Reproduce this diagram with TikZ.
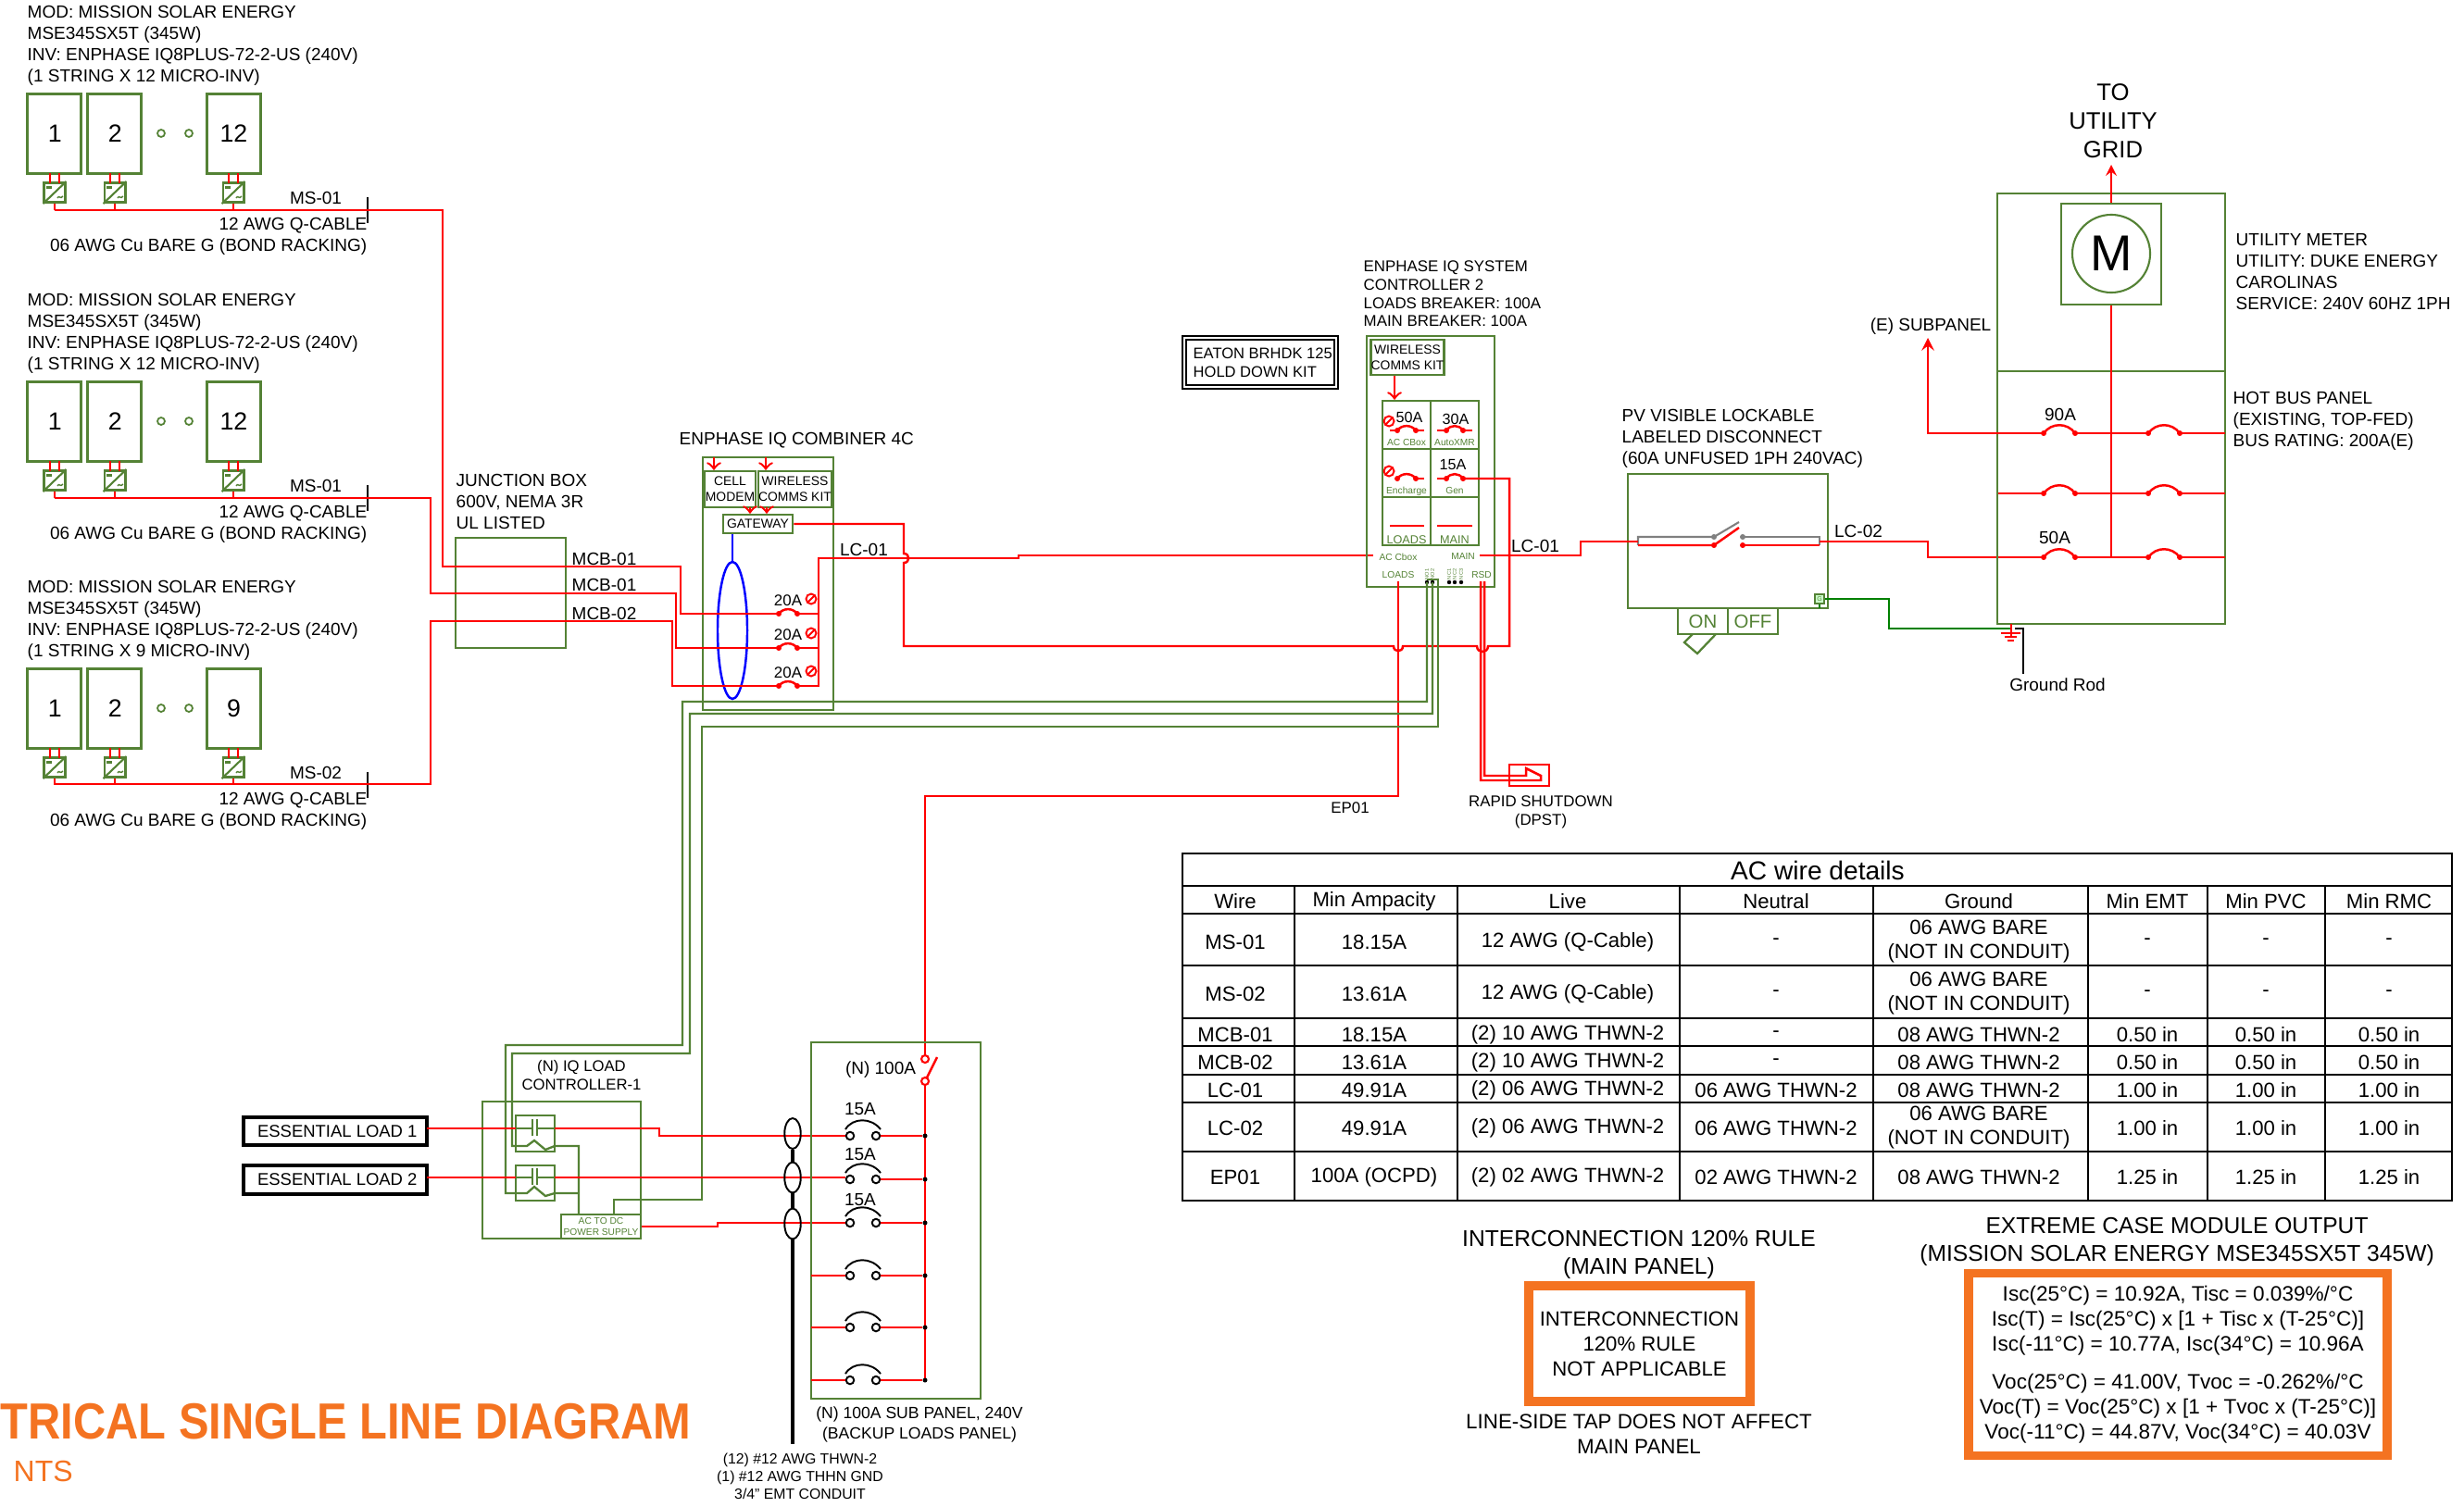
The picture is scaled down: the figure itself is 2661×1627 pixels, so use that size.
\documentclass[tikz,border=0pt]{standalone}
\usepackage{fontspec}
\setmainfont{Liberation Sans}
\usetikzlibrary{shapes.geometric}
\definecolor{grn}{HTML}{548235}
\definecolor{gnd}{HTML}{008000}
\definecolor{org}{HTML}{F47321}
\newcommand{\fs}[2]{\fontsize{#1}{#2}\selectfont}
% red breaker: centre x, half width, rise, y
\newcommand{\redbrk}[4]{
	\fill[red] (#1-#2,#4) circle (0.03cm);
	\fill[red] (#1+#2,#4) circle (0.03cm);
	\draw[wire] (#1-#2,#4) .. controls (#1-#2*0.5,#4-#3*1.3) and (#1+#2*0.5,#4-#3*1.3) .. (#1+#2,#4);
}
\newcommand{\noentry}[2]{
	\draw[red,line width=0.55pt] (#1,#2) circle (0.055cm);
	\draw[red,line width=0.55pt] (#1-4,#2+4) -- (#1+4,#2-4);
}
\begin{document}
\begin{tikzpicture}[x=0.01cm,y=-0.01cm]
	\tikzstyle{wire} = [red, line width=0.7pt]
	\tikzstyle{thinwire} = [red, line width=0.5pt]
	\tikzstyle{grnwire} = [grn, line width=0.65pt]
	\tikzstyle{grnbox} = [draw=grn, line width=0.7pt, inner sep=0pt, align=center]
	\tikzstyle{panel} = [grnbox, line width=0.85pt, minimum width=0.57cm, minimum height=0.85cm, font=\fs{7.6}{9}]
	\tikzstyle{inv} = [grnbox, line width=0.85pt, minimum width=0.22cm, minimum height=0.21cm]
	\tikzstyle{txt} = [inner sep=0pt, align=left, yshift=-0.4pt, font=\fs{5.4}{6.55}]
	\tikzstyle{mid} = [inner sep=0pt, align=center, yshift=-0.4pt, font=\fs{5.4}{6.55}]
	\tikzstyle{small} = [mid, font=\fs{4.8}{5.7}]
	\tikzstyle{gtxt} = [mid, text=grn, font=\fs{2.9}{3.4}]
	\tikzstyle{orgbox} = [draw=org, line width=2.7pt, inner sep=0pt, align=center]
	\tikzstyle{blk} = [draw=black, line width=0.55pt]
	\tikzstyle{term} = [blk, circle, fill=white, minimum size=0.085cm, inner sep=0pt]
	\tikzstyle{busdot} = [circle, fill=black, minimum size=0.05cm, inner sep=0pt]
	\tikzstyle{cable} = [ellipse, blk, minimum width=0.175cm, minimum height=0.33cm, inner sep=0pt]
	\useasboundingbox (0,0) rectangle (2661,1627);

	% module strings
	\foreach \off/\num/\ms [count=\k] in {0/12/MS-01, 311/12/MS-01, 621/9/MS-02} {
		\node [txt, anchor=north west] (mod\k) at (29,4+\off) {MOD: MISSION SOLAR ENERGY\\MSE345SX5T (345W)\\INV: ENPHASE IQ8PLUS-72-2-US (240V)\\(1 STRING X \num\ MICRO-INV)};
		\node [panel] (pv\k a) at (58.5,144.5+\off) {\hspace{0.5pt}1};
		\node [panel] (pv\k b) at (123.5,144.5+\off) {\hspace{0.5pt}2};
		\node [panel] (pv\k c) at (252.5,144.5+\off) {\num};
		\draw[grn, line width=0.5pt] (174,144+\off) circle (0.04cm);
		\draw[grn, line width=0.5pt] (204,144+\off) circle (0.04cm);
		\foreach \x/\s in {59/a, 124/b, 252/c} {
			\node [inv] (mi\k\s) at (\x,208+\off) {};
			\draw[grn, line width=0.6pt] (mi\k\s.south west) -- (mi\k\s.north east);
			\fill[grn] (\x-9,201+\off) rectangle (\x-3,204+\off);
			\draw[grn, line width=0.4pt] (\x+3,214+\off) .. controls (\x+5,210+\off) and (\x+6,216+\off) .. (\x+9,212+\off);
			\draw[wire] (\x-5,187+\off) -- (\x-5,198+\off);
			\draw[wire] (\x+5,187+\off) -- (\x+5,198+\off);
			\draw[wire] (mi\k\s.south) -- (\x,227+\off);
		}
		\node [txt] (lbl\k) at (341,213+\off) {\ms};
		\node [txt, anchor=east] (awg\k) at (397,242+\off) {12 AWG Q-CABLE};
		\node [txt, anchor=east] (bare\k) at (397,265+\off) {06 AWG Cu BARE G (BOND RACKING)};
		\draw[black, line width=0.8pt] (397,213+\off) -- (397,241+\off);
	}

	% junction box and combiner
	\node [txt, anchor=west] (jbtxt) at (492,541) {JUNCTION BOX\\600V, NEMA 3R\\UL LISTED};
	\node [grnbox, minimum width=1.19cm, minimum height=1.19cm] (jbox) at (551.5,640.5) {};
	\node [txt, anchor=west] (mcb1) at (617,603) {MCB-01};
	\node [txt, anchor=west] (mcb2) at (617,631) {MCB-01};
	\node [txt, anchor=west] (mcb3) at (617,662) {MCB-02};
	\node [txt, anchor=west] (combtxt) at (733,474) {ENPHASE IQ COMBINER 4C};
	\node [grnbox, minimum width=1.41cm, minimum height=2.73cm] (comb) at (829.5,630.5) {};
	\node [grnbox, font=\fs{3.95}{4.85}, minimum width=0.55cm, minimum height=0.39cm] (modem) at (788.5,528.5) {CELL\\MODEM};
	\node [grnbox, font=\fs{3.95}{4.85}, minimum width=0.79cm, minimum height=0.39cm] (comms) at (858.5,528.5) {WIRELESS\\COMMS KIT};
	\node [grnbox, font=\fs{3.95}{4.85}, minimum width=0.75cm, minimum height=0.20cm] (gateway) at (818.5,566) {GATEWAY};
	\node [ellipse, draw=blue, line width=0.7pt, minimum width=0.32cm, minimum height=1.48cm, inner sep=0pt] (ct) at (791,681) {};
	\draw[blue, line width=0.7pt] (gateway.south -| ct) -- (ct.north);
	\draw[wire, ->] (771,494) -- (modem.north -| 771,0);
	\draw[wire, ->] (827,494) -- (comms.north -| 827,0);
	\draw[wire, ->] (810,548) -- (gateway.north -| 810,0);
	\draw[wire, ->] (828,548) -- (gateway.north -| 828,0);
	\foreach \y/\ly/\ny in {663/647/a, 700/684/b, 741/725/c} {
		\redbrk{851}{10}{5}{\y}
		\node [mid, font=\fs{4.8}{5.7}] (amp\ny) at (851,\ly) {20A};
		\noentry{876}{\ly}
		\draw[wire] (861,\y) -- (885,\y);
	}
	\draw[wire] (59,227) -- (478,227) -- (478,612) -- (735,612) -- (735,663) -- (841,663);
	\draw[wire] (59,538) -- (465,538) -- (465,641) -- (730,641) -- (730,700) -- (841,700);
	\draw[wire] (59,847) -- (465,847) -- (465,671) -- (726,671) -- (726,741) -- (841,741);
	\draw[wire] (884,741) -- (884,603) -- (1100,603) -- (1100,600) -- (1483,600);
	\node [txt] (lc1a) at (933,593) {LC-01};

	% system controller
	\node [small, anchor=north west, align=left, font=\fs{4.8}{5.6}] (sctxt) at (1472,280) {ENPHASE IQ SYSTEM\\CONTROLLER 2\\LOADS BREAKER: 100A\\MAIN BREAKER: 100A};
	\node [draw=black, line width=0.8pt, minimum width=1.68cm, minimum height=0.57cm, inner sep=0pt] (eatonout) at (1361,391.5) {};
	\node [draw=black, line width=0.5pt, minimum width=1.60cm, minimum height=0.49cm, inner sep=0pt] (eaton) at (1361,391.5) {};
	\node [txt, anchor=west, font=\fs{4.7}{5.7}] (eatontxt) at (1288,390) {EATON BRHDK 125\\HOLD DOWN KIT};
	\node [grnbox, minimum width=1.38cm, minimum height=2.71cm] (sc) at (1545,498.5) {};
	\node [grnbox, font=\fs{3.95}{4.85}, minimum width=0.78cm, minimum height=0.38cm] (sccomms) at (1520,386) {WIRELESS\\COMMS KIT};
	\foreach \r/\y in {1/459, 2/511, 3/563} {
		\node [grnbox, minimum width=0.52cm, minimum height=0.52cm] (cell\r a) at (1519,\y) {};
		\node [grnbox, minimum width=0.52cm, minimum height=0.52cm] (cell\r b) at (1571,\y) {};
	}
	\draw[wire, ->] (sccomms.south -| 1506,0) -- (cell1a.north -| 1506,0);
	\node [small, font=\fs{4.6}{5}] (a50) at (1522,450) {50A};
	\node [small, font=\fs{4.6}{5}] (a30) at (1572,452) {30A};
	\node [small, font=\fs{4.6}{5}] (a15) at (1569,501) {15A};
	\noentry{1500}{455}
	\noentry{1500}{509}
	\redbrk{1519}{10}{5}{465}
	\redbrk{1571}{9}{5}{465}
	\redbrk{1519}{10}{5}{517}
	\redbrk{1571}{9}{5}{517}
	\foreach \a/\b/\y in {1501/1509/465, 1529/1538/465, 1552/1562/465, 1580/1590/465, 1529/1538/517, 1552/1562/517} {
		\draw[wire] (\a,\y) -- (\b,\y);
	}
	\draw[wire] (1501,568) -- (1538,568);
	\draw[thinwire] (1552,568) -- (1590,568);
	\node [gtxt] (g1) at (1519,477) {AC CBox};
	\node [gtxt] (g2) at (1571,477) {AutoXMR};
	\node [gtxt] (g3) at (1519,529) {Encharge};
	\node [gtxt] (g4) at (1571,529) {Gen};
	\node [gtxt, font=\fs{3.6}{4}] (g5) at (1519,582) {LOADS};
	\node [gtxt, font=\fs{3.6}{4}] (g6) at (1571,582) {MAIN};
	\node [gtxt] (g7) at (1510,600) {AC Cbox};
	\node [gtxt] (g8) at (1580,600) {MAIN};
	\node [gtxt] (g9) at (1510,620) {LOADS};
	\node [gtxt] (g10) at (1600,620) {RSD};
	\foreach \x/\t in {1541/NO1, 1547/NO2, 1565/NC1, 1571/NC2, 1578/NC3} {
		\node [gtxt, font=\fs{1.6}{2}, rotate=90] (pin\t) at (\x,619) {\t};
		\fill[black] (\x,629) circle (0.022cm);
	}

	% wires from the controller
	\draw[wire] (1510,628) -- (1510,860) -- (999,860) -- (999,1139);
	\node [small] (ep01) at (1458,871) {EP01};
	\draw[wire] (1603,628) -- (1603,838) -- (1648,838) -- (1648,830) -- (1664,838) -- (1664,843) -- (1599,843) -- (1599,628);
	\node [draw=red, line width=0.6pt, minimum width=0.43cm, minimum height=0.23cm, inner sep=0pt] (rsd) at (1651.5,837.5) {};
	\node [small] (rsdtxt) at (1664,876) {RAPID SHUTDOWN\\(DPST)};
	\draw[wire] (gateway.east) -- (976,566) -- (976,598) .. controls (983,598) and (983,608) .. (976,608) -- (976,698) -- (1505,698) .. controls (1505,705) and (1515,705) .. (1515,698) -- (1595,698) .. controls (1595,706) and (1607,706) .. (1607,698) -- (1630,698) -- (1630,517) -- (1580,517);
	\draw[grnwire] (1541,629) -- (1541,758) -- (737,758) -- (737,1129) -- (546,1129) -- (546,1289) -- (569,1289) -- (577,1282) -- (589,1292) -- (599,1289) -- (625,1289);
	\draw[grnwire] (1547,629) -- (1547,771) -- (745,771) -- (745,1138) -- (553,1138) -- (553,1238) -- (569,1238) -- (577,1232) -- (589,1242) -- (599,1238) -- (625,1238) -- (625,1312);
	\draw[grnwire] (1541,626) -- (1553,626) -- (1553,785) -- (758,785) -- (758,1296) -- (663,1296) -- (663,1312);

	% load controller
	\node [small, font=\fs{4.75}{5.7}] (iqtxt) at (628,1160) {(N) IQ LOAD\\CONTROLLER-1};
	\node [grnbox, minimum width=1.71cm, minimum height=1.48cm] (iqlc) at (606.5,1264) {};
	\node [grnbox, minimum width=0.42cm, minimum height=0.39cm] (rly1) at (578,1224.5) {};
	\node [grnbox, minimum width=0.42cm, minimum height=0.38cm] (rly2) at (578,1278) {};
	\node [grnbox, text=grn, font=\fs{2.9}{3.3}, minimum width=0.86cm, minimum height=0.26cm] (psu) at (649,1325) {AC TO DC\\POWER SUPPLY};
	\node [draw=black, line width=1.1pt, inner sep=0pt, font=\fs{5.25}{6}, minimum width=1.98cm, minimum height=0.30cm] (load1) at (362,1222) {\hspace{1.3pt}ESSENTIAL LOAD 1};
	\node [draw=black, line width=1.1pt, inner sep=0pt, font=\fs{5.25}{6}, minimum width=1.98cm, minimum height=0.31cm] (load2) at (362,1274.5) {\hspace{1.3pt}ESSENTIAL LOAD 2};
	\foreach \y in {1219, 1272} {
		\draw[grnwire] (557,\y) -- (575,\y);
		\draw[grnwire] (580,\y) -- (599,\y);
		\draw[grnwire] (575,\y-10) -- (575,\y+8);
		\draw[grnwire] (580,\y-10) -- (580,\y+8);
		\draw[wire] (461,\y) -- (557,\y);
	}
	\draw[wire] (599,1219) -- (712,1219) -- (712,1227) -- (913,1227);
	\draw[wire] (599,1272) -- (913,1272);
	\draw[wire] (psu.east) -- (775,1325) -- (775,1321) -- (913,1321);

	% sub panel
	\node [grnbox, minimum width=1.83cm, minimum height=3.85cm] (sub) at (967.5,1318.5) {};
	\node [mid] (n100) at (951,1154) {(N) 100A};
	\node [circle, draw=red, line width=0.6pt, minimum size=0.08cm, inner sep=0pt] (swa) at (999,1144) {};
	\node [circle, draw=red, line width=0.6pt, minimum size=0.08cm, inner sep=0pt] (swb) at (999,1168) {};
	\draw[wire] (swb) -- (999,1491);
	\draw[wire] (1001,1164) -- (1012,1142);
	\foreach \y/\ay/\a [count=\k] in {1227/1197/15A, 1274/1246/15A, 1321/1295/15A, 1378/1348/, 1434/1404/, 1491/1461/} {
		\node [term] (sl\k) at (918,\y) {};
		\node [term] (sr\k) at (946,\y) {};
		\node [busdot] (sd\k) at (999,\y) {};
		\draw[blk] (913,\y-7) .. controls (921,\y-20) and (941,\y-20) .. (951,\y-7);
		\draw[wire] (sr\k) -- (sd\k);
		\node [mid] (amp\k) at (929,\ay) {\a};
	}
	\draw[wire] (876,1378) -- (sl4);
	\draw[wire] (876,1434) -- (sl5);
	\draw[wire] (876,1491) -- (sl6);
	\node [small, font=\fs{5}{6}] (subtxt) at (993,1537.5) {(N) 100A SUB PANEL, 240V\\(BACKUP LOADS PANEL)};
	\node [cable] (cab1) at (856,1224.5) {};
	\node [cable] (cab2) at (856,1272) {};
	\node [cable] (cab3) at (856,1322) {};
	\draw[black, line width=0.9pt] (cab1) -- (cab2);
	\draw[black, line width=0.9pt] (cab2) -- (cab3);
	\draw[black, line width=0.9pt] (cab3) -- (856,1560);
	\node [small, font=\fs{4.5}{5.4}] (emt) at (864,1593) {(12) \#12 AWG THWN-2\\(1) \#12 AWG THHN GND\\3/4" EMT CONDUIT};

	% disconnect
	\node [txt, anchor=west] (pvtxt) at (1751,472) {PV VISIBLE LOCKABLE\\LABELED DISCONNECT\\(60A UNFUSED 1PH 240VAC)};
	\node [grnbox, minimum width=2.16cm, minimum height=1.45cm] (disc) at (1866,584.5) {};
	\node [grnbox, text=grn, font=\fs{5.8}{7}, minimum width=0.54cm, minimum height=0.28cm] (on) at (1839,671) {ON};
	\node [grnbox, text=grn, font=\fs{5.8}{7}, minimum width=0.54cm, minimum height=0.28cm] (off) at (1893,671) {OFF};
	\draw[grnwire] (1853,685) -- (1833,706) -- (1819,694) -- (1828,685);
	\draw[gray, line width=0.6pt] (1769,589) -- (1769,580) -- (1851,580) -- (1878,564);
	\draw[gray, line width=0.6pt] (1882,580) -- (1965,580) -- (1965,589);
	\draw[wire] (1769,589) -- (1851,589) -- (1878,570);
	\draw[wire] (1882,589) -- (1965,589);
	\fill[gray] (1851,580) circle (0.03cm);
	\fill[gray] (1882,580) circle (0.03cm);
	\fill[red] (1851,589) circle (0.03cm);
	\fill[red] (1882,589) circle (0.03cm);
	\draw[wire] (1598,600) -- (1707,600) -- (1707,585) -- (1769,585);
	\draw[wire] (1965,585) -- (2082,585) -- (2082,602) -- (2207,602);
	\node [txt] (lc1b) at (1658,589) {LC-01};
	\node [txt] (lc2) at (2007,573) {LC-02};
	\node [grnbox, font=\fs{2}{2}, text=grn, fill=green!20, minimum width=0.10cm, minimum height=0.10cm] (gbox) at (1965,647) {G};
	\draw[gnd, line width=0.8pt] (gbox.south) -- (1965,657);
	\draw[gnd, line width=0.8pt] (gbox.east) -- (2040,647) -- (2040,679) -- (2172,679);

	% meter and panel
	\node [grnbox, minimum width=2.455cm, minimum height=4.65cm] (msp) at (2280,441.5) {};
	\draw[grnwire] (msp.west |- 0,401) -- (msp.east |- 0,401);
	\node [grnbox, minimum width=1.08cm, minimum height=1.09cm] (meter) at (2280,274.5) {};
	\node [circle, draw=grn, line width=0.6pt, minimum size=0.84cm, inner sep=0pt, font=\fs{15.5}{16}] (mcirc) at (2280,274) {M};
	\draw[thinwire, -stealth] (msp.north -| meter) -- (2280,178);
	\draw[thinwire] (msp.north -| meter) -- (meter.north);
	\draw[thinwire] (meter.south) -- (2280,602);
	\node [mid, font=\fs{7.3}{8.8}] (grid) at (2282,129) {TO\\UTILITY\\GRID};
	\node [txt, anchor=west] (metertxt) at (2414,292) {UTILITY METER\\UTILITY: DUKE ENERGY\\CAROLINAS\\SERVICE: 240V 60HZ 1PH};
	\node [txt, anchor=west] (bustxt) at (2411,453) {HOT BUS PANEL\\(EXISTING, TOP-FED)\\BUS RATING: 200A(E)};
	\node [mid] (subp) at (2085,351) {(E) SUBPANEL};
	\node [mid] (a90) at (2225,447) {90A};
	\node [mid] (a50b) at (2219,580) {50A};
	\foreach \y in {468, 533, 602} {
		\redbrk{2224}{17}{9}{\y}
		\redbrk{2337}{17}{9}{\y}
		\draw[wire] (2241,\y) -- (2320,\y);
		\draw[wire] (2354,\y) -- (2403,\y);
	}
	\draw[wire] (2158,533) -- (2207,533);
	\draw[wire, -stealth] (2207,468) -- (2082,468) -- (2082,365);
	\draw[thinwire] (2172,674) -- (2172,687);
	\draw[thinwire] (2161,684) -- (2182,684);
	\draw[thinwire] (2165,688) -- (2178,688);
	\draw[thinwire] (2168,692) -- (2175,692);
	\draw[black, line width=0.6pt] (2176,679) -- (2185,679) -- (2185,728);
	\node [mid] (rod) at (2222,738) {Ground Rod};

	% table
	\draw[black, line width=0.7pt] (1277,922) rectangle (2648,1297);
	\foreach \y in {957, 987} {\draw[black, line width=0.7pt] (1277,\y) -- (2648,\y);}
	\foreach \y in {1043, 1100, 1130, 1161, 1191, 1244} {\draw[black, line width=0.55pt] (1277,\y) -- (2648,\y);}
	\foreach \x in {1398, 1574, 1814, 2023, 2255, 2384, 2511} {\draw[black, line width=0.4pt] (\x,957) -- (\x,1297);}
	\node [mid, font=\fs{8}{9}] (ttl) at (1963,939) {AC wire details};
	\foreach \y/\a/\b/\c/\d/\e/\f/\g/\h [count=\r] in {
		972/Wire/Min Ampacity/Live/Neutral/Ground/Min EMT/Min PVC/Min RMC,
		1016/MS-01/18.15A/12 AWG (Q-Cable)/-/06 AWG BARE\\(NOT IN CONDUIT)/-/-/-,
		1072/MS-02/13.61A/12 AWG (Q-Cable)/-/06 AWG BARE\\(NOT IN CONDUIT)/-/-/-,
		1116/MCB-01/18.15A/(2) 10 AWG THWN-2/-/08 AWG THWN-2/0.50 in/0.50 in/0.50 in,
		1146/MCB-02/13.61A/(2) 10 AWG THWN-2/-/08 AWG THWN-2/0.50 in/0.50 in/0.50 in,
		1176/LC-01/49.91A/(2) 06 AWG THWN-2/06 AWG THWN-2/08 AWG THWN-2/1.00 in/1.00 in/1.00 in,
		1217/LC-02/49.91A/(2) 06 AWG THWN-2/06 AWG THWN-2/06 AWG BARE\\(NOT IN CONDUIT)/1.00 in/1.00 in/1.00 in,
		1270/EP01/100A (OCPD)/(2) 02 AWG THWN-2/02 AWG THWN-2/08 AWG THWN-2/1.25 in/1.25 in/1.25 in} {
		\foreach \x/\t [count=\q] in {1334/\a, 1484/\b, 1693/\c, 1918/\d, 2137/\e, 2319/\f, 2447/\g, 2580/\h} {
			\node [mid, font=\fs{6.3}{7.4}] (cell-\r-\q) at (\x,\y) {\t};
		}
	}

	% rule boxes
	\node [mid, font=\fs{7}{8.4}] (ruletxt) at (1770,1354) {INTERCONNECTION 120\% RULE\\(MAIN PANEL)};
	\node [orgbox, font=\fs{6.3}{7.7}, minimum width=2.39cm, minimum height=1.25cm] (rulebox) at (1770.5,1451.5) {INTERCONNECTION\\120\% RULE\\NOT APPLICABLE};
	\node [mid, font=\fs{6.36}{7.7}] (linetxt) at (1770,1547.5) {LINE-SIDE TAP DOES NOT AFFECT\\MAIN PANEL};
	\node [mid, font=\fs{7}{8.4}] (exttxt) at (2351,1340) {EXTREME CASE MODULE OUTPUT\\(MISSION SOLAR ENERGY MSE345SX5T 345W)};
	\node [orgbox, font=\fs{6.42}{7.7}, minimum width=4.52cm, minimum height=1.97cm] (extbox) at (2352,1474) {Isc(25°C) = 10.92A, Tisc = 0.039\%/°C\\Isc(T) = Isc(25°C) x [1 + Tisc x (T-25°C)]\\Isc(-11°C) = 10.77A, Isc(34°C) = 10.96A\\[4pt]Voc(25°C) = 41.00V, Tvoc = -0.262\%/°C\\Voc(T) = Voc(25°C) x [1 + Tvoc x (T-25°C)]\\Voc(-11°C) = 44.87V, Voc(34°C) = 40.03V};
	\node [inner sep=0pt, anchor=west, text=org, font=\fs{15.6}{18}\bfseries] (title) at (0,1536) {\scalebox{0.89}[1]{TRICAL SINGLE LINE DIAGRAM}};
	\node [inner sep=0pt, anchor=west, text=org, font=\fs{9.1}{11}] (nts) at (14,1589) {NTS};
\end{tikzpicture}
\end{document}
